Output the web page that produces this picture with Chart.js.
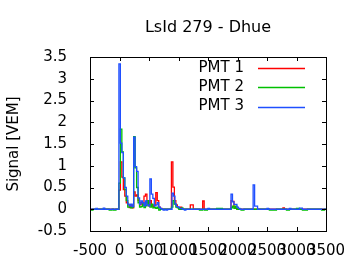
<!DOCTYPE html>
<html>
<head>
  <title>LsId 279 - Dhue</title>
  <script src="https://cdn.jsdelivr.net/npm/chart.js"></script>
  <style>
    body { margin: 0; background: #fff; }
  </style>
</head>
<body>
<canvas id="trace" width="360" height="270"></canvas>

<script>
  const chartTitle = 'LsId 279 - Dhue';
  const yTitle = 'Signal [VEM]';
  const seriesNames = ['PMT 1', 'PMT 2', 'PMT 3'];
  const seriesColors = ['#ff0000', '#00c000', '#1f4fff'];

  const xTicks = [-500, 0, 500, 1000, 1500, 2000, 2500, 3000, 3500];
  const yTicks = [-0.5, 0, 0.5, 1, 1.5, 2, 2.5, 3, 3.5];

  // PMT 1 (red) - bin start time / signal
  const pmt1T = [-500, -10, 15, 40, 65, 90, 115, 140, 165, 190, 215, 240, 265, 290, 315, 340, 365, 390, 415, 440,
    465, 490, 515, 540, 565, 590, 615, 640, 665, 690, 715, 880, 905, 930, 955, 980, 1005, 1030, 1055,
    1200, 1250, 1410, 1435, 1890, 1915, 1940, 1965, 1990, 2770, 2795, 3500];
  const pmt1V = [0, 0.44, 1.09, 0.74, 0.45, 0.30, 0.15, 0.10, 0.04, 0.10, 0.03, 0.40, 0.30, 0.33, 0.20, 0.10, 0.15, 0.10, 0.30, 0.35,
    0.15, 0.08, 0.20, 0.10, 0.06, 0.10, 0.38, 0.20, 0.05, 0.02, 0, 1.09, 0.51, 0.20, 0.10, 0.05, 0.02, 0.05, 0,
    0.10, 0, 0.19, 0, 0.20, 0.18, 0.05, 0.02, 0, 0.03, 0, 0];

  // PMT 2 (green)
  const pmt2T = [-500, -450, -175, -125, -100, -60, -10, 15, 40, 65, 90, 115, 140, 165, 190, 215, 240, 265, 290, 315,
    340, 365, 390, 415, 440, 465, 490, 515, 540, 565, 590, 615, 640, 665, 690, 880, 905, 930, 955, 980, 1005,
    1050, 1075, 1355, 1410, 1440, 1490, 1645, 1745, 1890, 1915, 1940, 1965, 1990, 2060, 2110, 2540, 2660,
    2830, 2880, 3000, 3050, 3100, 3185, 3425, 3475, 3500];
  const pmt2V = [-0.02, 0, -0.02, 0, -0.02, 0, 0.60, 1.84, 1.32, 0.72, 0.45, 0.20, 0.05, 0.05, 0.03, 0.05, 1.67, 0.95, 0.50, 0.15,
    0.05, 0.06, 0.12, 0.04, 0.08, 0.20, 0.10, 0.05, 0.12, 0.03, 0.04, 0.02, 0.05, -0.02, 0, 0.05, 0.20, 0.12, 0.05, 0.03, 0,
    0.03, 0, -0.02, 0, -0.02, 0, 0.02, 0, 0.03, 0.07, 0.02, 0.07, 0, -0.02, 0, -0.02, 0,
    -0.02, 0, 0.02, 0, -0.02, 0, -0.02, 0, 0];

  // PMT 3 (blue)
  const pmt3T = [-500, -400, -375, -275, -250, -10, 15, 40, 65, 90, 115, 140, 165, 190, 215, 240, 265, 290, 315, 340,
    365, 390, 415, 440, 465, 490, 515, 540, 565, 590, 615, 640, 665, 690, 715, 740, 765, 790, 815, 890, 915,
    940, 965, 990, 1015, 1040, 1065, 1100, 1125, 1500, 1525, 1890, 1915, 1940, 1990, 2015, 2040, 2265, 2290,
    2340, 2500, 2525, 2880, 2905, 3050, 3100, 3500];
  const pmt3V = [0, 0.02, 0, 0.025, 0, 3.34, 1.52, 1.30, 0.72, 0.50, 0.30, 0.12, 0.08, 0.12, 0.06, 1.66, 0.98, 0.87, 0.26, 0.12,
    0.19, 0.15, 0.08, 0.19, 0.10, 0.08, 0.70, 0.35, 0.25, 0.08, 0.10, 0.15, 0.05, 0.02, 0, -0.02, 0, -0.02, 0, 0.37, 0.30,
    0.12, 0.06, 0.05, 0.02, 0.02, 0, -0.02, 0, 0.02, 0, 0.35, 0.17, 0.11, 0.05, 0.02, 0, 0.56, 0.07,
    0, 0.02, 0, 0.02, 0, 0.025, 0, 0];

  const times = [pmt1T, pmt2T, pmt3T];
  const values = [pmt1V, pmt2V, pmt3V];

  Chart.defaults.font.family = 'DejaVu Sans';
  Chart.defaults.font.size = 15;
  Chart.defaults.color = '#000';

  // gnuplot-like frame, inward ticks, title, y label and key
  const gnuplotLook = {
    id: 'gnuplotLook',
    afterDraw(chart) {
      const { ctx, chartArea: a, scales } = chart;
      ctx.save();
      ctx.strokeStyle = '#000';
      ctx.lineWidth = 1;
      ctx.strokeRect(a.left + 0.5, a.top + 0.5, a.right - a.left, a.bottom - a.top);

      ctx.beginPath();
      xTicks.forEach(v => {
        const px = Math.round(scales.x.getPixelForValue(v)) + 0.5;
        ctx.moveTo(px, a.bottom); ctx.lineTo(px, a.bottom - 4);
        ctx.moveTo(px, a.top); ctx.lineTo(px, a.top + 4);
      });
      yTicks.forEach(v => {
        const py = Math.round(scales.y.getPixelForValue(v)) + 0.5;
        ctx.moveTo(a.left, py); ctx.lineTo(a.left + 4, py);
        ctx.moveTo(a.right, py); ctx.lineTo(a.right - 4, py);
      });
      ctx.stroke();

      ctx.fillStyle = '#000';
      ctx.textAlign = 'center';
      ctx.textBaseline = 'middle';
      ctx.font = '16px "DejaVu Sans"';
      ctx.fillText(chartTitle, (a.left + a.right) / 2, 28);

      ctx.font = '15px "DejaVu Sans"';
      ctx.save();
      ctx.translate(14, (a.top + a.bottom) / 2);
      ctx.rotate(-Math.PI / 2);
      ctx.fillText(yTitle, 0, 0);
      ctx.restore();

      ctx.textAlign = 'right';
      chart.data.datasets.forEach((ds, i) => {
        const ly = 68 + 19.3 * i;
        ctx.fillStyle = '#000';
        ctx.fillText(ds.label, 244, ly);
        ctx.strokeStyle = ds.borderColor;
        ctx.lineWidth = 1.3;
        ctx.beginPath();
        ctx.moveTo(258, Math.round(ly) + 0.5);
        ctx.lineTo(305, Math.round(ly) + 0.5);
        ctx.stroke();
      });
      ctx.restore();
    }
  };

  new Chart(document.getElementById('trace'), {
    type: 'line',
    data: {
      datasets: seriesNames.map((name, i) => ({
        label: name,
        data: times[i].map((t, k) => ({ x: t, y: values[i][k] })),
        borderColor: seriesColors[i],
        borderWidth: 1.3,
        pointRadius: 0,
        stepped: true,
        fill: false,
        order: 2 - i
      }))
    },
    options: {
      responsive: false,
      animation: false,
      layout: { padding: { left: 0, top: 57, right: 34, bottom: 0 } },
      plugins: {
        legend: { display: false },
        title: { display: false },
        tooltip: { enabled: false }
      },
      scales: {
        x: {
          type: 'linear',
          min: -500,
          max: 3500,
          grid: { display: false },
          border: { display: false },
          afterFit: s => { s.height = 39; },
          afterBuildTicks: s => { s.ticks = xTicks.map(v => ({ value: v })); },
          ticks: {
            padding: 3,
            maxRotation: 0,
            minRotation: 0,
            autoSkip: false,
            callback: v => String(v)
          }
        },
        y: {
          min: -0.5,
          max: 3.5,
          grid: { display: false },
          border: { display: false },
          afterFit: s => { s.width = 90; },
          afterBuildTicks: s => { s.ticks = yTicks.map(v => ({ value: v })); },
          ticks: {
            padding: 15,
            callback: v => String(v)
          }
        }
      }
    },
    plugins: [gnuplotLook]
  });
</script>
</body>
</html>
